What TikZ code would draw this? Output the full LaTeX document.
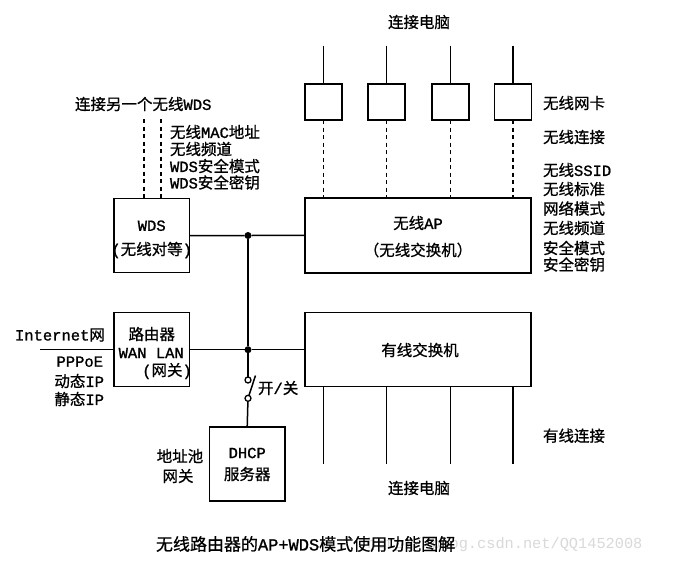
\documentclass[tikz,border=0pt]{standalone}
\usepackage{fontspec}
\setmainfont{Noto Sans CJK SC}[FakeBold=0.8]
\newfontfamily\latfont{Liberation Mono}[FakeBold=1.2]
\newfontfamily\wmfont{Liberation Mono}
\newcommand\latn[1]{{\latfont #1}}
\begin{document}
\begin{tikzpicture}[x=1pt,y=-1pt,
  every node/.style={inner sep=0pt,outer sep=0pt},
  box/.style={draw,line width=1.5pt},
  txt/.style={font=\fontsize{15.5}{18}\selectfont},
  wire/.style={line width=1.5pt},
  dwire/.style={line width=1.5pt,dash pattern=on 4pt off 3.5pt},
  jdot/.style={circle,fill,minimum size=7pt},
  ring/.style={circle,draw,line width=1.3pt,minimum size=6pt,fill=white}
]
\useasboundingbox[fill=white] (0,0) rectangle (700,571);

% watermark
\node[font=\wmfont\fontsize{15.3}{18}\selectfont,text=gray!30,anchor=west] (wm) at (367,545) {http://blog.csdn.net/QQ1452008};

% wireless NIC boxes
\foreach \i/\x in {1/323.5,2/386.5,3/450.5,4/513}{
  \node[box,minimum width=37pt,minimum height=36pt] (k\i) at (\x,102) {};
  \coordinate (t\i) at (\x,45.7);
  \coordinate (b\i) at (\x,464.3);
}

% main boxes
\node[box,minimum width=226.3pt,minimum height=74.7pt] (ap) at (417.9,235.4) {};
\node[txt] (apt1) at (418,223) {无线\latn{AP}};
\node[txt] (apt2) at (418,250) {（无线交换机）};

\node[box,minimum width=226.3pt,minimum height=74pt] (sw) at (417.9,349.7) {};
\node[txt] (swt) at (420,350) {有线交换机};

\node[box,minimum width=75.3pt,minimum height=74.4pt] (wds) at (151.7,235.5) {};
\node[txt] (wdst1) at (151.7,225.7) {\latn{WDS}};
\node[txt] (wdst2) at (151.7,250) {\latn{(}无线对等\latn{)}};

\node[box,minimum width=75.3pt,minimum height=74pt] (rt) at (151.7,349.7) {};
\node[txt] (rtt1) at (151.7,334) {路由器};
\node[txt] (rtt2) at (151.2,353) {\latn{WAN LAN}};
\node[txt] (rtt3) at (167,371) {\latn{(}网关\latn{)}};

\node[box,minimum width=75.7pt,minimum height=74.3pt] (dhcp) at (247.2,463.9) {};
\node[txt] (dht1) at (247.2,453) {\latn{DHCP}};
\node[txt] (dht2) at (247.2,474) {服务器};

% junctions and switch
\node[jdot] (j1) at (248,235.5) {};
\node[jdot] (j2) at (248,349.7) {};
\coordinate (inet) at (40,349.7);
\coordinate (lev) at (255.5,375.5);
\coordinate (w1) at (144,119);
\coordinate (w2) at (161,119);

\draw[wire] (wds.east) -- (j1) -- (ap.west);
\draw[wire] (rt.east) -- (j2) -- (sw.west);
\draw[wire] (inet) -- (rt.west);
\draw[wire] (j1) -- (j2);
\node[ring] (s1) at (248,380) {};
\node[ring] (s2) at (248,398.3) {};
\draw[wire] (j2) -- (s1);
\draw[wire] (s2) -- (dhcp.north);
\draw[wire] (s2) -- (lev);

% wireless / wired links
\foreach \i in {1,2,3,4}{
  \draw[wire] (t\i) -- (k\i.north);
  \draw[dwire] (k\i.south) -- (k\i.south |- ap.north);
  \draw[wire] (b\i |- sw.south) -- (b\i);
}
\draw[dwire] (w1) -- (w1 |- wds.north);
\draw[dwire] (w2) -- (w2 |- wds.north);

% labels
\node[txt] (top) at (419,22) {连接电脑};
\node[txt] (bot) at (419,488) {连接电脑};
\node[txt,anchor=west] (wdsl) at (75,104) {连接另一个无线\latn{WDS}};
\node[txt,anchor=west] (wl1) at (170,132) {无线\latn{MAC}地址};
\node[txt,anchor=west] (wl2) at (170,149) {无线频道};
\node[txt,anchor=west] (wl3) at (170,166) {\latn{WDS}安全模式};
\node[txt,anchor=west] (wl4) at (170,182.5) {\latn{WDS}安全密钥};

\node[txt,anchor=west] (r1) at (543,103) {无线网卡};
\node[txt,anchor=west] (r2) at (543,137) {无线连接};
\node[txt,anchor=west] (r3) at (543,170) {无线\latn{SSID}};
\node[txt,anchor=west] (r4) at (543,189) {无线标准};
\node[txt,anchor=west] (r5) at (543,208.5) {网络模式};
\node[txt,anchor=west] (r6) at (543,228) {无线频道};
\node[txt,anchor=west] (r7) at (543,248) {安全模式};
\node[txt,anchor=west] (r8) at (543,264.5) {安全密钥};
\node[txt,anchor=west] (r9) at (543,435.7) {有线连接};

\node[txt,anchor=west] (inl) at (15,335) {\latn{Internet}网};
\node[txt,anchor=east] (il1) at (103,361.7) {\latn{PPPoE}};
\node[txt,anchor=east] (il2) at (104,381) {动态\latn{IP}};
\node[txt,anchor=east] (il3) at (104,399) {静态\latn{IP}};
\node[txt,anchor=west] (swl) at (258,388) {开\latn{/}关};
\node[txt] (dl1) at (180,456) {地址池};
\node[txt] (dl2) at (178,476) {网关};

\node[font=\fontsize{17}{20}\selectfont,anchor=west] (title) at (156,544) {无线路由器的\latn{AP+WDS}模式使用功能图解};
\end{tikzpicture}
\end{document}
